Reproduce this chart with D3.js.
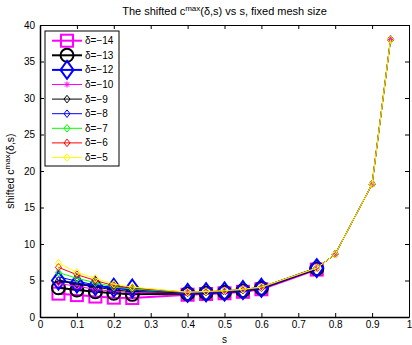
<!DOCTYPE html>
<html><head><meta charset="utf-8">
<script src="https://cdn.jsdelivr.net/npm/d3@7"></script>
<style>body{margin:0;background:#fff}svg{display:block}</style>
</head><body><svg id="c" width="412" height="345"></svg>
<script>
const sBig = [0.05,0.1,0.15,0.2,0.25,0.4,0.45,0.5,0.55,0.6,0.75];
const sSmall = [0.05,0.1,0.15,0.2,0.25,0.4,0.45,0.5,0.55,0.6,0.75,0.8,0.9,0.95];
const d14 = [3.2,3.0,2.8,2.65,2.6,3.05,3.15,3.25,3.45,3.8,6.5];
const d13 = [4.0,3.7,3.45,3.25,3.1,3.2,3.3,3.4,3.6,3.95,6.6];
const d12 = [5.0,4.6,4.25,4.0,3.9,3.3,3.4,3.5,3.7,4.0,6.7];
const d10 = [4.6,4.2,3.8,3.5,3.35,3.3,3.42,3.52,3.72,4.05,6.7,8.6,18.2,38.0];
const d9  = [5.0,4.5,4.1,3.7,3.5,3.32,3.43,3.53,3.73,4.05,6.7,8.6,18.2,38.0];
const d8  = [5.5,4.9,4.4,3.9,3.7,3.34,3.44,3.54,3.74,4.06,6.7,8.6,18.2,38.0];
const d7  = [6.1,5.3,4.7,4.1,3.85,3.36,3.45,3.56,3.76,4.07,6.7,8.6,18.2,38.0];
const d6  = [6.8,5.8,5.0,4.3,4.0,3.38,3.47,3.58,3.78,4.08,6.7,8.6,18.2,38.0];
const d5  = [7.4,6.1,5.3,4.5,4.1,3.4,3.5,3.6,3.8,4.1,6.7,8.6,18.2,38.0];
const xTicks = [0,0.1,0.2,0.3,0.4,0.5,0.6,0.7,0.8,0.9,1];
const yTicks = [0,5,10,15,20,25,30,35,40];
const labels = ["δ=−14","δ=−13","δ=−12","δ=−10","δ=−9","δ=−8","δ=−7","δ=−6","δ=−5"];

const series = [
  {s:sBig, v:d14, c:"#ff00ff", lw:2, m:"square", big:true},
  {s:sBig, v:d13, c:"#000000", lw:2, m:"circle", big:true},
  {s:sBig, v:d12, c:"#0000ff", lw:2, m:"diamond", big:true},
  {s:sSmall, v:d10, c:"#ff00ff", lw:1, m:"star", big:false},
  {s:sSmall, v:d9, c:"#000000", lw:1, m:"diamond", big:false},
  {s:sSmall, v:d8, c:"#0000ff", lw:1, m:"diamond", big:false},
  {s:sSmall, v:d7, c:"#00ff00", lw:1, m:"diamond", big:false},
  {s:sSmall, v:d6, c:"#ff0000", lw:1, m:"diamond", big:false},
  {s:sSmall, v:d5, c:"#ffff00", lw:1, m:"diamond", big:false}
];

const svg = d3.select("#c");
const font = "Liberation Sans, Arial, sans-serif";
const x = d3.scaleLinear().domain([0,1]).range([40,409]);
const y = d3.scaleLinear().domain([0,40]).range([317,25]);

// axes
const gx = svg.append("g").attr("transform","translate(0,317)")
  .call(d3.axisBottom(x).tickValues(xTicks).tickFormat(d3.format("~g")).tickSizeInner(-4).tickSizeOuter(0).tickPadding(4));
const gxt = svg.append("g").attr("transform","translate(0,25)")
  .call(d3.axisTop(x).tickValues(xTicks).tickFormat("").tickSizeInner(-4).tickSizeOuter(0));
const gy = svg.append("g").attr("transform","translate(40,0)")
  .call(d3.axisLeft(y).tickValues(yTicks).tickSizeInner(-4).tickSizeOuter(0).tickPadding(5));
const gyr = svg.append("g").attr("transform","translate(409,0)")
  .call(d3.axisRight(y).tickValues(yTicks).tickFormat("").tickSizeInner(-4).tickSizeOuter(0));
[gx,gxt,gy,gyr].forEach(g=>{
  g.selectAll(".domain").attr("stroke","#000").attr("stroke-width",1);
  g.selectAll(".tick line").attr("stroke","#000");
  g.selectAll("text").attr("font-family",font).attr("font-size",10).attr("fill","#000");
});
gx.select(".domain").attr("stroke-width",1.5);
gy.select(".domain").attr("stroke-width",1.5);

function marker(g, type, big, c, lw, cx, cy){
  if(type==="square"){
    g.append("rect").attr("x",cx-6).attr("y",cy-6).attr("width",12).attr("height",12)
      .attr("fill","none").attr("stroke",c).attr("stroke-width",lw);
  } else if(type==="circle"){
    g.append("circle").attr("cx",cx).attr("cy",cy).attr("r",6.5)
      .attr("fill","none").attr("stroke",c).attr("stroke-width",lw);
  } else if(type==="diamond"){
    const hw = big?6.5:3, hh = big?9:3.8;
    g.append("path").attr("d",`M${cx},${cy-hh}L${cx+hw},${cy}L${cx},${cy+hh}L${cx-hw},${cy}Z`)
      .attr("fill","none").attr("stroke",c).attr("stroke-width",lw);
  } else if(type==="star"){
    const r=3, r2=2.2;
    g.append("path").attr("d",`M${cx-r},${cy}L${cx+r},${cy}M${cx},${cy-r}L${cx},${cy+r}M${cx-r2},${cy-r2}L${cx+r2},${cy+r2}M${cx-r2},${cy+r2}L${cx+r2},${cy-r2}`)
      .attr("fill","none").attr("stroke",c).attr("stroke-width",1);
  }
}

const plot = svg.append("g");
const line = d3.line();
series.forEach(se=>{
  const pts = se.s.map((sv,i)=>[x(sv), y(se.v[i])]);
  const g = plot.append("g");
  g.append("path").attr("d",line(pts)).attr("fill","none").attr("stroke",se.c).attr("stroke-width",se.lw);
  pts.forEach(p=>marker(g, se.m, se.big, se.c, se.lw, p[0], p[1]));
});

// title
const t = svg.append("text").attr("x",224.5).attr("y",15).attr("text-anchor","middle")
  .attr("font-family",font).attr("font-size",11).attr("fill","#000");
t.append("tspan").text("The shifted c");
t.append("tspan").attr("dy",-4).attr("font-size",8).text("max");
t.append("tspan").attr("dy",4).text("(δ,s) vs s, fixed mesh size");

// axis labels
svg.append("text").attr("x",224.5).attr("y",343).attr("text-anchor","middle")
  .attr("font-family",font).attr("font-size",10).attr("fill","#000").text("s");
const yl = svg.append("text").attr("transform","translate(14,171) rotate(-90)").attr("text-anchor","middle")
  .attr("font-family",font).attr("font-size",10.5).attr("fill","#000");
yl.append("tspan").text("shifted c");
yl.append("tspan").attr("dy",-4).attr("font-size",8).text("max");
yl.append("tspan").attr("dy",4).text("(δ,s)");

// legend
const lg = svg.append("g");
lg.append("rect").attr("x",45).attr("y",31).attr("width",74).attr("height",135)
  .attr("fill","#fff").attr("stroke","#000").attr("stroke-width",1);
series.forEach((se,i)=>{
  const ly = 40.7 + i*14.6;
  lg.append("line").attr("x1",52).attr("x2",82).attr("y1",ly).attr("y2",ly)
    .attr("stroke",se.c).attr("stroke-width",se.lw);
  marker(lg, se.m, se.big, se.c, se.lw, 67, ly);
  lg.append("text").attr("x",85).attr("y",ly+3.5).attr("font-family",font).attr("font-size",10)
    .attr("fill","#000").text(labels[i]);
});
</script></body></html>
